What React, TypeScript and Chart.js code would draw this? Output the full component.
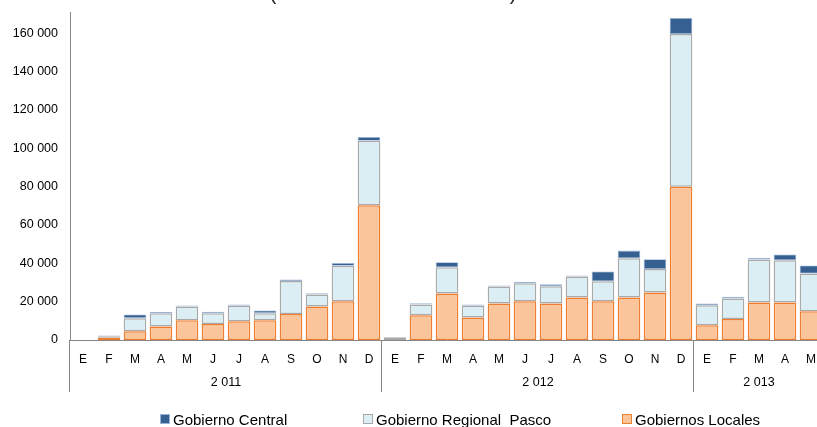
import React, { useEffect, useRef } from 'react';
import { Chart, registerables } from 'chart.js';

Chart.register(...registerables);

const months = [
  'E', 'F', 'M', 'A', 'M', 'J', 'J', 'A', 'S', 'O', 'N', 'D',
  'E', 'F', 'M', 'A', 'M', 'J', 'J', 'A', 'S', 'O', 'N', 'D',
  'E', 'F', 'M', 'A', 'M',
];
const yearLabels = ['2 011', '2 012', '2 013'];
const monthsPerYear = [12, 12, 5];

const gobiernosLocales = [
  0, 1200, 4500, 7000, 10300, 8400, 9800, 10300, 13600, 17400, 20200, 70300,
  0, 12900, 24200, 11700, 19000, 20200, 19000, 22100, 20200, 22100, 24800, 79900,
  7700, 11000, 19500, 19500, 15000,
];
const gobiernoRegional = [
  0, 700, 6900, 6900, 7200, 5600, 8000, 3700, 17100, 6300, 18500, 33600,
  1400, 5600, 13700, 6100, 8900, 9400, 9000, 11000, 10400, 20500, 12200, 79600,
  10400, 10600, 22500, 22100, 19700,
];
const gobiernoCentral = [
  0, 500, 1900, 700, 500, 700, 700, 1400, 900, 700, 1400, 1900,
  0, 700, 2600, 700, 500, 700, 1000, 500, 5100, 4000, 5100, 8400,
  900, 900, 700, 3000, 4200,
];

const yTickValues = [0, 20000, 40000, 60000, 80000, 100000, 120000, 140000, 160000];
const yMax = 171000;
const titleText = '(En miles de nuevos soles)';

const FONT = '"Liberation Sans", Arial, sans-serif';
const AXIS_COLOR = '#868686';

const seriesStyle = {
  central: { fill: '#376092', border: '#9bb5d6' },
  regional: { fill: '#DBEEF4', border: '#A9A9A9' },
  locales: { fill: '#FAC59A', border: '#EE7D2E' },
};

function fmt(v: number): string {
  return String(v).replace(/\B(?=(\d{3})+(?!\d))/g, ' ');
}

const titlePlugin = {
  id: 'cutTitle',
  afterDraw(chart: any) {
    const ctx = chart.ctx;
    ctx.save();
    ctx.font = `20.6px ${FONT}`;
    ctx.fillStyle = '#262626';
    ctx.textAlign = 'center';
    ctx.textBaseline = 'alphabetic';
    ctx.fillText(titleText, 393, 0);
    ctx.restore();
  },
};

const yearAxisPlugin = {
  id: 'yearAxis',
  afterDraw(chart: any) {
    const x = chart.scales.x;
    const ctx = chart.ctx;
    const bottom = chart.chartArea.bottom;
    const half = (x.getPixelForValue(1) - x.getPixelForValue(0)) / 2;
    ctx.save();
    ctx.strokeStyle = AXIS_COLOR;
    ctx.lineWidth = 1;
    ctx.font = `12.5px ${FONT}`;
    ctx.fillStyle = '#000';
    ctx.textAlign = 'center';
    ctx.textBaseline = 'middle';
    let start = 0;
    monthsPerYear.forEach((n, i) => {
      const x0 = x.getPixelForValue(start) - half;
      const x1 = x.getPixelForValue(start + n - 1) + half;
      const lx = Math.round(x0) - 0.5;
      ctx.beginPath();
      ctx.moveTo(lx, bottom);
      ctx.lineTo(lx, bottom + 52);
      ctx.stroke();
      ctx.fillText(yearLabels[i], (x0 + x1) / 2, bottom + 43);
      start += n;
    });
    ctx.restore();
  },
};

const legendPlugin = {
  id: 'customLegend',
  afterDraw(chart: any) {
    const ctx = chart.ctx;
    const order = [2, 1, 0];
    const startXs = [160, 363, 622];
    ctx.save();
    ctx.font = `15px ${FONT}`;
    ctx.textAlign = 'left';
    ctx.textBaseline = 'alphabetic';
    order.forEach((di, k) => {
      const ds = chart.data.datasets[di];
      const bx = startXs[k];
      const by = 414;
      ctx.fillStyle = ds.backgroundColor;
      ctx.fillRect(bx, by, 10, 10);
      ctx.strokeStyle = ds.borderColor;
      ctx.lineWidth = 1;
      ctx.strokeRect(bx + 0.5, by + 0.5, 9, 9);
      ctx.fillStyle = '#000';
      ctx.fillText(ds.label, bx + 13, 425);
    });
    ctx.restore();
  },
};

export default function App() {
  const canvasRef = useRef<HTMLCanvasElement | null>(null);

  useEffect(() => {
    if (!canvasRef.current) return;
    const chart = new Chart(canvasRef.current, {
      type: 'bar',
      data: {
        labels: months,
        datasets: [
          {
            label: 'Gobiernos Locales',
            data: gobiernosLocales,
            backgroundColor: seriesStyle.locales.fill,
            borderColor: seriesStyle.locales.border,
            borderWidth: 1.5,
            borderSkipped: false,
          },
          {
            label: 'Gobierno Regional  Pasco',
            data: gobiernoRegional,
            backgroundColor: seriesStyle.regional.fill,
            borderColor: seriesStyle.regional.border,
            borderWidth: 1.5,
            borderSkipped: false,
          },
          {
            label: 'Gobierno Central',
            data: gobiernoCentral,
            backgroundColor: seriesStyle.central.fill,
            borderColor: seriesStyle.central.border,
            borderWidth: 0.8,
            borderSkipped: false,
          },
        ],
      },
      options: {
        animation: false,
        responsive: false,
        devicePixelRatio: 1,
        datasets: {
          bar: { barPercentage: 0.87, categoryPercentage: 1 },
        },
        layout: { padding: { left: 0, right: 8, top: 12, bottom: 0 } },
        scales: {
          x: {
            stacked: true,
            grid: { display: false, drawTicks: false },
            border: { display: true, color: AXIS_COLOR },
            ticks: {
              autoSkip: false,
              maxRotation: 0,
              padding: 12,
              color: '#000',
              font: { family: FONT, size: 12 },
            },
            afterFit(scale: any) {
              scale.height = 87;
              scale.paddingLeft = 0;
              scale.paddingRight = 0;
            },
          },
          y: {
            stacked: true,
            min: 0,
            max: yMax,
            grid: { display: false, drawTicks: false },
            border: { display: true, color: AXIS_COLOR },
            ticks: {
              padding: 12,
              color: '#000',
              font: { family: FONT, size: 12.5 },
              callback: (v: any) => fmt(Number(v)),
            },
            afterBuildTicks(scale: any) {
              scale.ticks = yTickValues.map((v) => ({ value: v }));
            },
            afterFit(scale: any) {
              scale.width = 70;
              scale.paddingTop = 0;
              scale.paddingBottom = 0;
            },
          },
        },
        plugins: {
          legend: { display: false },
          tooltip: { enabled: false },
          title: { display: false },
        },
      },
      plugins: [titlePlugin, yearAxisPlugin, legendPlugin],
    });
    return () => chart.destroy();
  }, []);

  return (
    <div
      style={{
        position: 'absolute',
        left: 0,
        top: 0,
        width: 817,
        height: 427,
        overflow: 'hidden',
        background: '#fff',
      }}
    >
      <canvas
        ref={canvasRef}
        width={832}
        height={427}
        style={{ position: 'absolute', left: 0, top: 0, width: 832, height: 427 }}
      />
    </div>
  );
}
